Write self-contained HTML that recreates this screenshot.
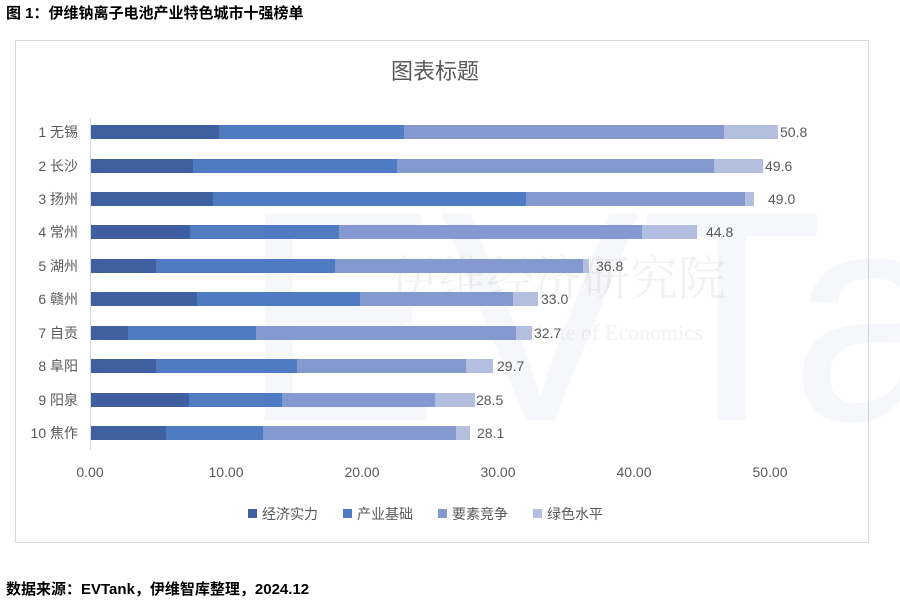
<!DOCTYPE html>
<html><head><meta charset="utf-8"><style>
body{margin:0;width:900px;height:600px;background:#fff;overflow:hidden;font-family:"Liberation Sans","Noto Sans CJK SC",sans-serif;}
</style></head><body>
<svg width="900" height="600" xmlns="http://www.w3.org/2000/svg" style="position:absolute;left:0;top:0">
<text x="6" y="18" font-size="15" font-weight="bold" fill="#000" font-family="Liberation Sans,Noto Sans CJK SC,sans-serif">图 1：伊维钠离子电池产业特色城市十强榜单</text>
<rect x="15.5" y="40.5" width="853" height="502" fill="#fff" stroke="#d9d9d9"/>
<g opacity="0.035" fill="#1f3f7f">
<text x="240" y="420" font-size="300" font-family="Liberation Sans,sans-serif">EVTank</text>
</g>
<g opacity="0.07" fill="#555">
<text x="390" y="295" font-size="48" font-family="Noto Serif CJK SC,serif">伊维经济研究院</text>
<text x="385" y="340" font-size="22" font-family="Liberation Serif,serif">China YiWei Institute of Economics</text>
</g>
<text x="435" y="79" text-anchor="middle" font-size="22" fill="#595959" font-family="Liberation Sans,Noto Sans CJK SC,sans-serif">图表标题</text>
<line x1="90.5" y1="118" x2="90.5" y2="450" stroke="#d9d9d9"/>
<g font-size="14" fill="#595959" text-anchor="end" font-family="Liberation Sans,Noto Sans CJK SC,sans-serif">
<text x="78" y="137">1 无锡</text><text x="78" y="171">2 长沙</text><text x="78" y="204">3 扬州</text><text x="78" y="237">4 常州</text><text x="78" y="271">5 湖州</text><text x="78" y="304">6 赣州</text><text x="78" y="338">7 自贡</text><text x="78" y="371">8 阜阳</text><text x="78" y="405">9 阳泉</text><text x="78" y="438">10 焦作</text>
</g>
<g>
<rect x="91" y="125" width="128" height="14" fill="#3f5fa0"/><rect x="219" y="125" width="185" height="14" fill="#4f7bc2"/><rect x="404" y="125" width="320" height="14" fill="#8399d0"/><rect x="724" y="125" width="54" height="14" fill="#b4bfe0"/>
<rect x="91" y="159" width="102" height="14" fill="#3f5fa0"/><rect x="193" y="159" width="204" height="14" fill="#4f7bc2"/><rect x="397" y="159" width="317" height="14" fill="#8399d0"/><rect x="714" y="159" width="49" height="14" fill="#b4bfe0"/>
<rect x="91" y="192" width="122" height="14" fill="#3f5fa0"/><rect x="213" y="192" width="313" height="14" fill="#4f7bc2"/><rect x="526" y="192" width="219" height="14" fill="#8399d0"/><rect x="745" y="192" width="9" height="14" fill="#b4bfe0"/>
<rect x="91" y="225" width="99" height="14" fill="#3f5fa0"/><rect x="190" y="225" width="149" height="14" fill="#4f7bc2"/><rect x="339" y="225" width="303" height="14" fill="#8399d0"/><rect x="642" y="225" width="55" height="14" fill="#b4bfe0"/>
<rect x="91" y="259" width="65" height="14" fill="#3f5fa0"/><rect x="156" y="259" width="179" height="14" fill="#4f7bc2"/><rect x="335" y="259" width="248" height="14" fill="#8399d0"/><rect x="583" y="259" width="6" height="14" fill="#b4bfe0"/>
<rect x="91" y="292" width="106" height="14" fill="#3f5fa0"/><rect x="197" y="292" width="163" height="14" fill="#4f7bc2"/><rect x="360" y="292" width="153" height="14" fill="#8399d0"/><rect x="513" y="292" width="25" height="14" fill="#b4bfe0"/>
<rect x="91" y="326" width="37" height="14" fill="#3f5fa0"/><rect x="128" y="326" width="128" height="14" fill="#4f7bc2"/><rect x="256" y="326" width="260" height="14" fill="#8399d0"/><rect x="516" y="326" width="16" height="14" fill="#b4bfe0"/>
<rect x="91" y="359" width="65" height="14" fill="#3f5fa0"/><rect x="156" y="359" width="141" height="14" fill="#4f7bc2"/><rect x="297" y="359" width="169" height="14" fill="#8399d0"/><rect x="466" y="359" width="27" height="14" fill="#b4bfe0"/>
<rect x="91" y="393" width="98" height="14" fill="#3f5fa0"/><rect x="189" y="393" width="93" height="14" fill="#4f7bc2"/><rect x="282" y="393" width="153" height="14" fill="#8399d0"/><rect x="435" y="393" width="40" height="14" fill="#b4bfe0"/>
<rect x="91" y="426" width="75" height="14" fill="#3f5fa0"/><rect x="166" y="426" width="97" height="14" fill="#4f7bc2"/><rect x="263" y="426" width="193" height="14" fill="#8399d0"/><rect x="456" y="426" width="14" height="14" fill="#b4bfe0"/>
</g>
<g font-size="14" fill="#595959" font-family="Liberation Sans,sans-serif">
<text x="780" y="137">50.8</text><text x="765" y="171">49.6</text><text x="768" y="204">49.0</text><text x="706" y="237">44.8</text><text x="596" y="271">36.8</text><text x="541" y="304">33.0</text><text x="534" y="338">32.7</text><text x="497" y="371">29.7</text><text x="476" y="405">28.5</text><text x="477" y="438">28.1</text>
</g>
<g font-size="14" fill="#595959" text-anchor="middle" font-family="Liberation Sans,sans-serif">
<text x="90" y="477">0.00</text><text x="226" y="477">10.00</text><text x="362" y="477">20.00</text><text x="498" y="477">30.00</text><text x="634" y="477">40.00</text><text x="770" y="477">50.00</text>
</g>
<g font-size="14" fill="#595959" font-family="Liberation Sans,Noto Sans CJK SC,sans-serif">
<rect x="248" y="509" width="9" height="9" fill="#3f5fa0"/><text x="262" y="519">经济实力</text>
<rect x="343" y="509" width="9" height="9" fill="#4f7bc2"/><text x="357" y="519">产业基础</text>
<rect x="438" y="509" width="9" height="9" fill="#8399d0"/><text x="452" y="519">要素竞争</text>
<rect x="533" y="509" width="9" height="9" fill="#b4bfe0"/><text x="547" y="519">绿色水平</text>
</g>
<text x="6" y="594" font-size="15" font-weight="bold" fill="#000" font-family="Liberation Sans,Noto Sans CJK SC,sans-serif">数据来源：EVTank，伊维智库整理，2024.12</text>
</svg>
</body></html>
